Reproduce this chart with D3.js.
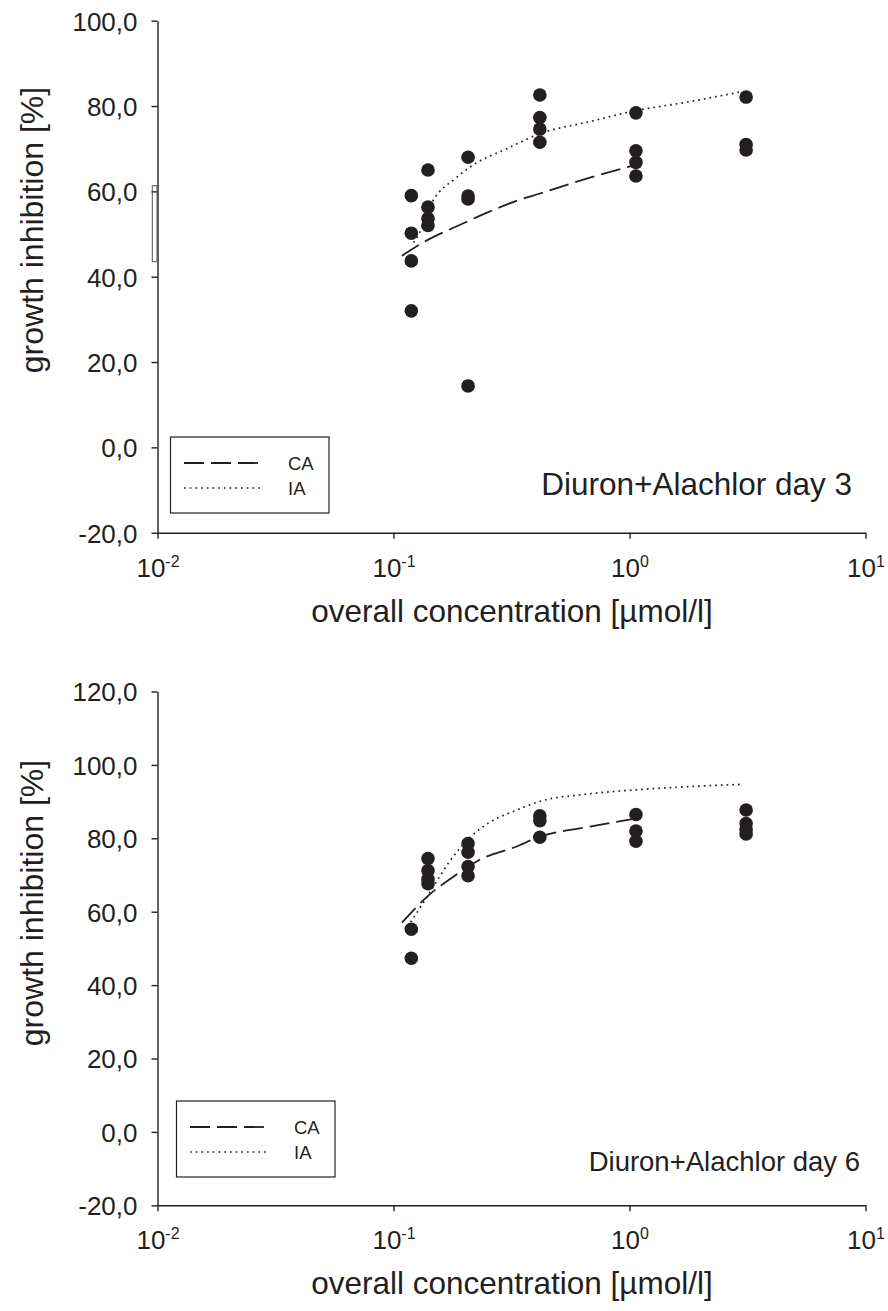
<!DOCTYPE html>
<html>
<head>
<meta charset="utf-8">
<script src="https://cdn.jsdelivr.net/npm/d3@7"></script>
<style>
  body { margin: 0; background: #fff; }
  svg { display: block; }
  text { font-family: "Liberation Sans", Arial, Helvetica, sans-serif; fill: #231f20; }
</style>
</head>
<body>
<svg id="fig" width="888" height="1311"></svg>
<script>
// Overall mixture concentration levels (µmol/l)
const concLevels = [0.119, 0.140, 0.207, 0.417, 1.065, 3.12];

// Observed growth inhibition (%) per concentration level, replicates
const day3Obs = [
  [59.0, 50.2, 43.7, 32.0],
  [65.0, 56.3, 53.6, 52.0],
  [68.0, 58.9, 58.2, 14.4],
  [82.6, 77.3, 74.6, 71.5],
  [78.4, 69.5, 66.8, 63.6],
  [82.1, 71.0, 69.7]
];
const day6Obs = [
  [55.2, 47.3],
  [74.5, 71.2, 68.8, 67.6],
  [78.6, 76.2, 72.3, 69.8],
  [86.1, 84.8, 80.3],
  [86.5, 82.0, 79.2],
  [87.7, 84.0, 82.4, 81.2]
];

// Predicted mixture effects: concentration addition (CA) and independent action (IA)
const day3CAConc = [0.1085, 0.1416, 0.1836, 0.2463, 0.3409, 0.4178, 0.50, 0.6966, 1.065];
const day3CAVal  = [44.9, 48.8, 51.7, 54.9, 58.0, 59.5, 60.9, 63.4, 66.2];
const day3IAConc = [0.1215, 0.1265, 0.1463, 0.1837, 0.2234, 0.2944, 0.417, 0.697, 1.014, 1.79, 3.01];
const day3IAVal  = [48.0, 49.4, 57.6, 63.1, 66.6, 69.7, 73.5, 76.5, 78.7, 81.0, 83.4];

const day6CAConc = [0.1085, 0.1416, 0.1836, 0.2307, 0.3305, 0.4141, 0.6531, 1.065];
const day6CAVal  = [57.0, 64.6, 70.0, 74.1, 77.7, 80.4, 83.0, 85.4];
const day6IAConc = [0.1146, 0.1306, 0.1462, 0.1721, 0.2093, 0.2545, 0.3305, 0.4141, 0.65, 1.064, 3.01];
const day6IAVal  = [55.9, 61.4, 66.4, 73.5, 80.0, 84.3, 87.6, 90.0, 92.0, 93.2, 94.7];

// Axis ticks
const xTickValues = [0.01, 0.1, 1, 10];
const xTickExponents = ["-2", "-1", "0", "1"];
const day3YTicks = [-20, 0, 20, 40, 60, 80, 100];
const day6YTicks = [-20, 0, 20, 40, 60, 80, 100, 120];

const legendLabels = ["CA", "IA"];
const xTitle = "overall concentration [µmol/l]";
const yTitle = "growth inhibition [%]";

const INK = "#231f20";
const fmt = d3.formatLocale({ decimal: ",", thousands: ".", grouping: [3], currency: ["", ""], minus: "-" }).format(".1f");

const svg = d3.select("#fig");

const panels = [
  {
    obs: day3Obs, ticks: day3YTicks, yDomain: [-20, 100],
    top: 20.7, bottom: 532.7, titleCenter: 230,
    ca: [day3CAConc, day3CAVal], ia: [day3IAConc, day3IAVal],
    label: "Diuron+Alachlor day 3", labelX: 852, labelY: 495, labelSize: 31.5,
    legend: { x: 170.5, y: 437, w: 158.5, h: 76 },
    stub: true
  },
  {
    obs: day6Obs, ticks: day6YTicks, yDomain: [-20, 120],
    top: 691.5, bottom: 1205.3, titleCenter: 903,
    ca: [day6CAConc, day6CAVal], ia: [day6IAConc, day6IAVal],
    label: "Diuron+Alachlor day 6", labelX: 860, labelY: 1171, labelSize: 27.5,
    legend: { x: 176.5, y: 1101, w: 158.5, h: 76 },
    stub: false
  }
];

const xLeft = 157.5, xRight = 865.5;

panels.forEach(p => {
  const x = d3.scaleLog().domain([0.01, 10]).range([xLeft, xRight]);
  const y = d3.scaleLinear().domain(p.yDomain).range([p.bottom, p.top]);
  const g = svg.append("g");

  // y axis
  const yAxis = g.append("g")
    .attr("transform", `translate(${xLeft},0)`)
    .call(d3.axisLeft(y).tickValues(p.ticks).tickFormat(fmt).tickSize(6).tickSizeOuter(0).tickPadding(14));
  yAxis.selectAll("text").style("font-size", "26px").attr("dy", "0.36em");

  // x axis with power-of-ten labels
  const xAxis = g.append("g")
    .attr("transform", `translate(0,${p.bottom})`)
    .call(d3.axisBottom(x).tickValues(xTickValues).tickFormat(() => "").tickSize(6).tickSizeOuter(0));
  xAxis.selectAll(".tick text").remove();
  xAxis.selectAll(".tick").each(function(d, i) {
    const t = d3.select(this).append("text")
      .attr("y", 44)
      .attr("text-anchor", "middle")
      .style("font-size", "26px");
    t.append("tspan").text("10");
    t.append("tspan").attr("dy", -10).style("font-size", "16px").text(xTickExponents[i]);
  });

  [yAxis, xAxis].forEach(a => {
    a.selectAll("path, line").attr("stroke", INK).attr("stroke-width", 1.4);
  });

  // small leftover frame beside the y axis
  if (p.stub) {
    g.append("rect")
      .attr("x", 152.3).attr("y", 185.7).attr("width", 4.7).attr("height", 76)
      .attr("fill", "none").attr("stroke", "#555").attr("stroke-width", 1);
  }

  // axis titles
  g.append("text")
    .attr("transform", `translate(43,${p.titleCenter}) rotate(-90)`)
    .attr("text-anchor", "middle")
    .style("font-size", "32px")
    .text(yTitle);
  g.append("text")
    .attr("x", 512).attr("y", p.bottom + 89)
    .attr("text-anchor", "middle")
    .style("font-size", "31.5px")
    .text(xTitle);

  // model prediction curves
  const line = d3.line().x(d => x(d[0])).y(d => y(d[1])).curve(d3.curveMonotoneX);
  g.append("path")
    .datum(d3.zip(p.ca[0], p.ca[1]))
    .attr("d", line).attr("fill", "none")
    .attr("stroke", INK).attr("stroke-width", 1.8).attr("stroke-dasharray", "20,7");
  g.append("path")
    .datum(d3.zip(p.ia[0], p.ia[1]))
    .attr("d", line).attr("fill", "none")
    .attr("stroke", INK).attr("stroke-width", 1.7).attr("stroke-dasharray", "1.7,4");

  // observed replicates
  const pts = [];
  p.obs.forEach((vals, i) => vals.forEach(v => pts.push([concLevels[i], v])));
  g.append("g").selectAll("circle").data(pts).join("circle")
    .attr("cx", d => x(d[0])).attr("cy", d => y(d[1])).attr("r", 6.8)
    .attr("fill", INK);

  // legend
  const L = p.legend;
  const lg = g.append("g").attr("transform", `translate(${L.x},${L.y})`);
  lg.append("rect").attr("width", L.w).attr("height", L.h)
    .attr("fill", "#fff").attr("stroke", INK).attr("stroke-width", 1.2);
  const styles = [{ dash: "20,7", w: 1.8 }, { dash: "1.7,4", w: 1.7 }];
  legendLabels.forEach((lab, i) => {
    const ly = 26 + i * 25;
    lg.append("line").attr("x1", 13.5).attr("x2", 90).attr("y1", ly).attr("y2", ly)
      .attr("stroke", INK).attr("stroke-width", styles[i].w).attr("stroke-dasharray", styles[i].dash);
    lg.append("text").attr("x", 117.5).attr("y", ly + 6.5)
      .style("font-size", "18.5px").text(lab);
  });

  // panel annotation
  g.append("text")
    .attr("x", p.labelX).attr("y", p.labelY)
    .attr("text-anchor", "end")
    .style("font-size", p.labelSize + "px")
    .text(p.label);
});
</script>
</body>
</html>
